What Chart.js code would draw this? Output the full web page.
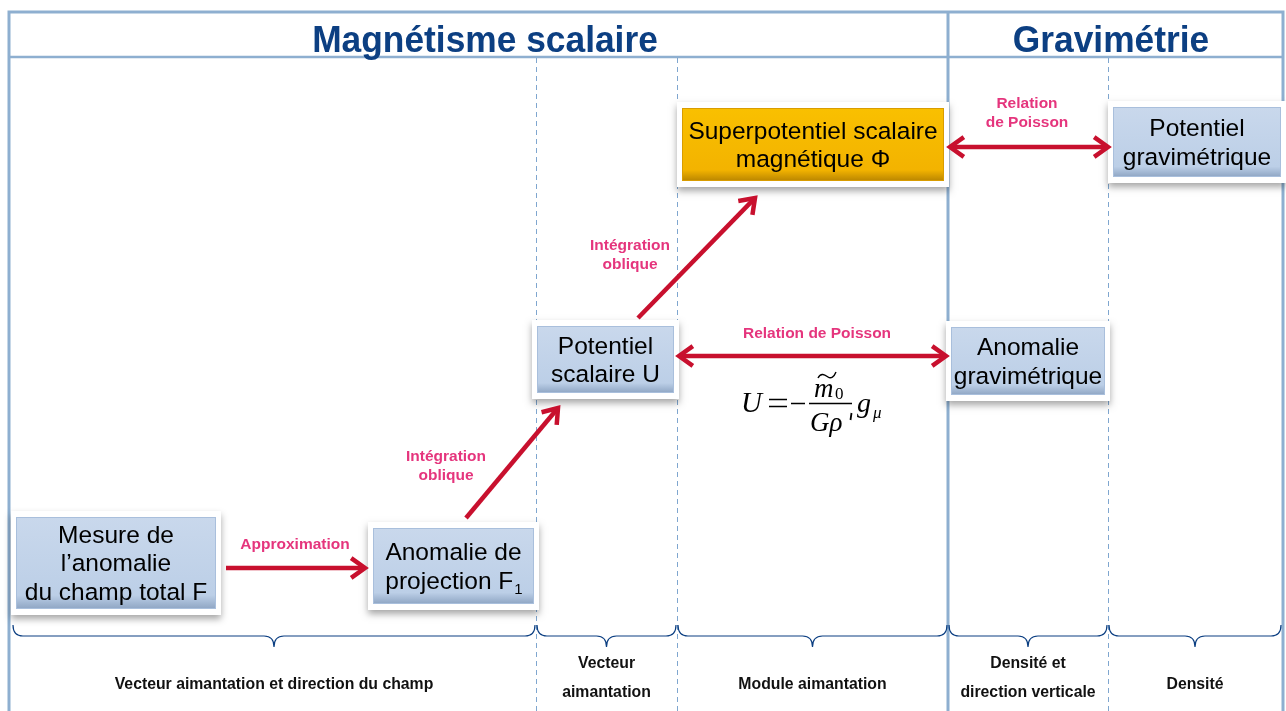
<!DOCTYPE html>
<html><head><meta charset="utf-8">
<script src="https://cdn.jsdelivr.net/npm/chart.js@4.4.1/dist/chart.umd.min.js"></script>
<style>html,body{margin:0;padding:0;background:#fff}canvas{display:block}</style>
</head><body>
<canvas id="c" width="1286" height="711"></canvas>
<script>
// ---- Data (layout units of the diagram scale) ----
const titles = ["Magnétisme scalaire", "Gravimétrie"];
const titleX = [485, 1111];
const nodeLabels = [
  ["Mesure de", "l\u2019anomalie", "du champ total F"],
  ["Anomalie de", "projection F_1"],
  ["Potentiel", "scalaire U"],
  ["Superpotentiel scalaire", "magnétique \u03A6"],
  ["Potentiel", "gravimétrique"],
  ["Anomalie", "gravimétrique"]
];
const nodeX1 = [16, 373, 537, 682, 1113, 951];
const nodeX2 = [216, 534, 674, 944, 1281, 1105];
const nodeY1 = [517, 528, 326, 108, 107, 327];
const nodeY2 = [609, 604, 393, 181, 177, 395];
const nodeKind = ["blue", "blue", "blue", "orange", "blue", "blue"];
const arrowFrom = [[226, 568], [466, 518], [638, 318], [679, 356], [950, 147]];
const arrowTo   = [[365, 568], [558, 408], [755, 198], [946, 356], [1108, 147]];
const arrowBoth = [false, false, false, true, true];
const arrowLabels = [["Approximation"], ["Intégration", "oblique"], ["Intégration", "oblique"], ["Relation de Poisson"], ["Relation", "de Poisson"]];
const arrowLabelX = [295, 446, 630, 817, 1027];
const arrowLabelY = [545, 457, 246, 334, 104];
const columnBounds = [12, 536, 677, 948, 1108, 1282];
const columnLabels = [
  ["Vecteur aimantation et direction du champ"],
  ["Vecteur", "aimantation"],
  ["Module aimantation"],
  ["Densité et", "direction verticale"],
  ["Densité"]
];
const dashedX = [536, 677, 1108];

const FRAME = "#8eafd0", DARK = "#0c3f82", RED = "#c8102e", PINK = "#e5357d";
const SANS = "'Liberation Sans', Arial, sans-serif";
const SERIF = "'Liberation Serif', 'Times New Roman', serif";

const diagram = {
  id: "diagram",
  afterDatasetsDraw(chart) {
    const ctx = chart.ctx, sx = chart.scales.x, sy = chart.scales.y;
    const X = v => sx.getPixelForValue(v), Y = v => sy.getPixelForValue(v);
    ctx.save();
    // frame
    ctx.strokeStyle = FRAME; ctx.lineWidth = 3;
    ctx.beginPath();
    ctx.moveTo(X(9), Y(711)); ctx.lineTo(X(9), Y(12)); ctx.lineTo(X(1283), Y(12)); ctx.lineTo(X(1283), Y(711));
    ctx.stroke();
    ctx.lineWidth = 2.5;
    ctx.beginPath(); ctx.moveTo(X(9), Y(57)); ctx.lineTo(X(1283), Y(57)); ctx.stroke();
    ctx.lineWidth = 3;
    ctx.beginPath(); ctx.moveTo(X(948), Y(12)); ctx.lineTo(X(948), Y(711)); ctx.stroke();
    // dashed
    ctx.lineWidth = 1; ctx.setLineDash([5, 4]); ctx.strokeStyle = "#7fa6cf";
    dashedX.forEach(x => { ctx.beginPath(); ctx.moveTo(X(x) + 0.5, Y(58)); ctx.lineTo(X(x) + 0.5, Y(711)); ctx.stroke(); });
    ctx.setLineDash([]);
    // titles (slightly condensed)
    ctx.fillStyle = DARK; ctx.font = "bold 37px " + SANS;
    ctx.textAlign = "center"; ctx.textBaseline = "alphabetic";
    titles.forEach((t, i) => {
      ctx.save();
      ctx.translate(X(titleX[i]), Y(51.5));
      ctx.scale(0.955, 1);
      ctx.fillText(t, 0, 0);
      ctx.restore();
    });
    ctx.textBaseline = "middle";
    // braces
    ctx.strokeStyle = DARK; ctx.lineWidth = 1.2;
    for (let i = 0; i < columnBounds.length - 1; i++) {
      const a = X(columnBounds[i]) + 1, b = X(columnBounds[i + 1]) - 1, m = (a + b) / 2;
      const t = Y(625), f = Y(636), p = Y(647);
      ctx.beginPath();
      ctx.moveTo(a, t);
      ctx.quadraticCurveTo(a, f, a + 10, f);
      ctx.lineTo(m - 10, f);
      ctx.quadraticCurveTo(m, f, m, p);
      ctx.quadraticCurveTo(m, f, m + 10, f);
      ctx.lineTo(b - 10, f);
      ctx.quadraticCurveTo(b, f, b, t);
      ctx.stroke();
    }
    // column labels
    ctx.fillStyle = "#111"; ctx.font = "bold 15.8px " + SANS;
    columnLabels.forEach((lines, i) => {
      const cx = X((columnBounds[i] + columnBounds[i + 1]) / 2);
      const y0 = lines.length === 1 ? 685 : 664;
      lines.forEach((l, j) => ctx.fillText(l, cx, Y(y0 + j * 29)));
    });
    // nodes
    const BOXF = "24.5px " + SANS, SUBF = "15px " + SANS;
    nodeLabels.forEach((lines, i) => {
      const x1 = X(nodeX1[i]), x2 = X(nodeX2[i]), y1 = Y(nodeY1[i]), y2 = Y(nodeY2[i]);
      ctx.save();
      ctx.shadowColor = "rgba(0,0,0,0.35)"; ctx.shadowBlur = 7; ctx.shadowOffsetY = 4;
      ctx.fillStyle = "#fff";
      ctx.fillRect(x1 - 5, y1 - 6, x2 - x1 + 10, y2 - y1 + 12);
      ctx.restore();
      const g = ctx.createLinearGradient(0, y1, 0, y2);
      if (nodeKind[i] === "orange") {
        g.addColorStop(0, "#f9c000"); g.addColorStop(0.85, "#f3b300"); g.addColorStop(1, "#b98500");
      } else {
        g.addColorStop(0, "#c9d8ec"); g.addColorStop(0.85, "#bccfe7"); g.addColorStop(1, "#8ea5c3");
      }
      ctx.fillStyle = g; ctx.fillRect(x1, y1, x2 - x1, y2 - y1);
      ctx.strokeStyle = nodeKind[i] === "orange" ? "#d99c00" : "#a9bfdc"; ctx.lineWidth = 1;
      ctx.strokeRect(x1 + 0.5, y1 + 0.5, x2 - x1 - 1, y2 - y1 - 1);
      ctx.fillStyle = "#000"; ctx.font = BOXF;
      ctx.textAlign = "center"; ctx.textBaseline = "middle";
      const cx = (x1 + x2) / 2, cy = (y1 + y2) / 2 + 1.5, lh = 28.5;
      lines.forEach((l, j) => {
        const ly = cy + (j - (lines.length - 1) / 2) * lh;
        if (l.includes("_")) {
          const [main, sub] = l.split("_");
          ctx.font = BOXF;
          const w1 = ctx.measureText(main).width;
          ctx.font = SUBF;
          const w2 = ctx.measureText(sub).width;
          const sx0 = cx - (w1 + w2) / 2;
          ctx.textAlign = "left";
          ctx.font = BOXF;
          ctx.fillText(main, sx0, ly);
          ctx.font = SUBF;
          ctx.fillText(sub, sx0 + w1 + 1, ly + 8);
          ctx.textAlign = "center";
          ctx.font = BOXF;
        } else ctx.fillText(l, cx, ly);
      });
    });
    // arrows
    ctx.strokeStyle = RED; ctx.lineWidth = 4.5; ctx.lineCap = "butt"; ctx.lineJoin = "miter";
    const head = (tx, ty, ang) => {
      const L = 17, a = 0.62;
      ctx.beginPath();
      ctx.moveTo(tx - L * Math.cos(ang - a), ty - L * Math.sin(ang - a));
      ctx.lineTo(tx, ty);
      ctx.lineTo(tx - L * Math.cos(ang + a), ty - L * Math.sin(ang + a));
      ctx.stroke();
    };
    arrowFrom.forEach((f, i) => {
      const ax = X(f[0]), ay = Y(f[1]), bx = X(arrowTo[i][0]), by = Y(arrowTo[i][1]);
      const ang = Math.atan2(by - ay, bx - ax);
      const off = 3;
      ctx.beginPath();
      ctx.moveTo(ax + (arrowBoth[i] ? off * Math.cos(ang) : 0), ay + (arrowBoth[i] ? off * Math.sin(ang) : 0));
      ctx.lineTo(bx - off * Math.cos(ang), by - off * Math.sin(ang));
      ctx.stroke();
      head(bx, by, ang);
      if (arrowBoth[i]) head(ax, ay, ang + Math.PI);
    });
    // arrow labels
    ctx.fillStyle = PINK; ctx.font = "bold 15.5px " + SANS;
    ctx.textAlign = "center"; ctx.textBaseline = "middle";
    arrowLabels.forEach((lines, i) => lines.forEach((l, j) => ctx.fillText(l, X(arrowLabelX[i]), Y(arrowLabelY[i] + j * 19))));
    // formula
    ctx.fillStyle = "#000"; ctx.strokeStyle = "#000";
    ctx.textAlign = "left"; ctx.textBaseline = "alphabetic";
    ctx.font = "italic 29px " + SERIF;
    ctx.fillText("U", X(741), Y(412));
    // "=", "−", fraction bar and prime drawn as rules
    ctx.lineWidth = 1.4;
    ctx.beginPath();
    ctx.moveTo(X(769), Y(399.5)); ctx.lineTo(X(787), Y(399.5));
    ctx.moveTo(X(769), Y(406.5)); ctx.lineTo(X(787), Y(406.5));
    ctx.moveTo(X(791), Y(403.5)); ctx.lineTo(X(805), Y(403.5));
    ctx.moveTo(X(809), Y(403.5)); ctx.lineTo(X(852), Y(403.5));
    ctx.stroke();
    ctx.lineWidth = 1.8;
    ctx.beginPath(); ctx.moveTo(X(851.5), Y(413)); ctx.lineTo(X(850.5), Y(420)); ctx.stroke();
    ctx.font = "italic 27px " + SERIF;
    ctx.fillText("m", X(814), Y(397));
    // tilde
    ctx.lineWidth = 1.4;
    ctx.beginPath();
    ctx.moveTo(X(818), Y(378));
    ctx.bezierCurveTo(X(821), Y(372), X(825), Y(375), X(828), Y(377));
    ctx.bezierCurveTo(X(831), Y(379), X(834), Y(377), X(836), Y(372));
    ctx.stroke();
    ctx.font = "17px " + SERIF;
    ctx.fillText("0", X(835), Y(399));
    ctx.font = "italic 27px " + SERIF;
    ctx.fillText("G\u03C1", X(810), Y(431));
    ctx.font = "italic 28px " + SERIF;
    ctx.fillText("g", X(857), Y(412));
    ctx.font = "italic 17px " + SERIF;
    ctx.fillText("\u03BC", X(873), Y(418));
    ctx.restore();
  }
};

new Chart(document.getElementById("c"), {
  type: "scatter",
  data: {
    datasets: [{
      label: "nodes",
      data: nodeX1.map((x, i) => ({ x: (x + nodeX2[i]) / 2, y: (nodeY1[i] + nodeY2[i]) / 2 })),
      pointRadius: 0
    }]
  },
  options: {
    responsive: false, animation: false,
    layout: { padding: 0 },
    plugins: { legend: { display: false }, tooltip: { enabled: false } },
    scales: {
      x: { type: "linear", min: 0, max: 1286, display: false },
      y: { type: "linear", min: 0, max: 711, reverse: true, display: false }
    }
  },
  plugins: [diagram]
});
</script>
</body></html>
